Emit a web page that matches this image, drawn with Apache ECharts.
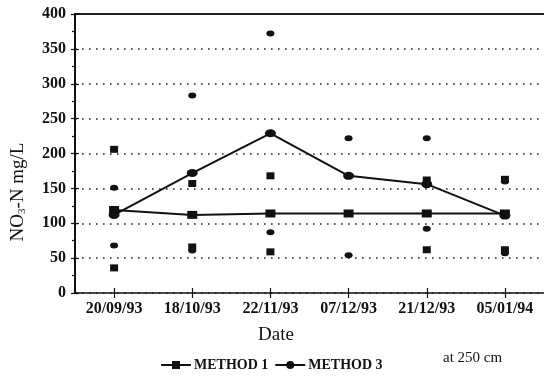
<!DOCTYPE html>
<html>
<head>
<meta charset="utf-8">
<script src="https://cdn.jsdelivr.net/npm/echarts@6/dist/echarts.min.js"></script>
<style>
  html, body { margin: 0; padding: 0; background: #fff; }
  #chart { width: 544px; height: 379px; }
</style>
</head>
<body>
<div id="chart"></div>
<script>
// Sampling dates
const dates = ['20/09/93', '18/10/93', '22/11/93', '07/12/93', '21/12/93', '05/01/94'];

// Mean NO3-N (mg/L) at 250 cm
const method1 = [119, 112, 114, 114, 114, 114];
const method3 = [112, 172, 229, 168, 156, 111];

// Individual high / low readings
const method1High = [206, 157, 168, '-', 162, 163];
const method1Low = [36, 66, 59, '-', 62, 62];
const method3High = [151, 283, 372, 222, 222, 160];
const method3Low = [68, 61, 87, 54, 92, 57];

// Value axis ticks
const yMin = 0, yMax = 400, yStep = 50;

const serif = '"Liberation Serif", "Times New Roman", serif';
const ink = '#111';

const chart = echarts.init(document.getElementById('chart'), null, { renderer: 'canvas' });

const catAxisBase = {
  type: 'category',
  data: dates,
  boundaryGap: true,
  gridIndex: 0
};

const valAxisBase = {
  type: 'value',
  min: yMin,
  max: yMax,
  interval: yStep,
  gridIndex: 0
};

const dotStyle = { color: ink, opacity: 1 };

chart.setOption({
  backgroundColor: '#fff',
  animation: false,
  grid: { left: 75, right: -3, top: 14, bottom: 86, containLabel: false },
  xAxis: [
    Object.assign({}, catAxisBase, {
      position: 'bottom',
      axisLine: { show: true, lineStyle: { color: ink, width: 1.5 } },
      axisTick: { show: true, alignWithLabel: true, length: 5, lineStyle: { color: ink, width: 1.2 } },
      axisLabel: { color: ink, fontFamily: serif, fontWeight: 'bold', fontSize: 16, margin: 8 },
      splitLine: { show: false }
    }),
    Object.assign({}, catAxisBase, {
      position: 'bottom',
      axisLine: { show: false },
      axisTick: { show: true, inside: true, alignWithLabel: true, length: 5, lineStyle: { color: ink, width: 1.2 } },
      axisLabel: { show: false },
      splitLine: { show: false }
    }),
    Object.assign({}, catAxisBase, {
      position: 'top',
      axisLine: { show: true, lineStyle: { color: '#222', width: 2 } },
      axisTick: { show: false },
      axisLabel: { show: false },
      splitLine: { show: false }
    })
  ],
  yAxis: [
    Object.assign({}, valAxisBase, {
      position: 'left',
      axisLine: { show: true, lineStyle: { color: ink, width: 2 } },
      axisTick: { show: true, length: 4, lineStyle: { color: ink, width: 1.2 } },
      minorTick: { show: true, splitNumber: 2, length: 3, lineStyle: { color: ink, width: 1.2 } },
      axisLabel: { color: ink, fontFamily: serif, fontWeight: 'bold', fontSize: 16, margin: 9 },
      splitLine: { show: true, lineStyle: { color: '#222', width: 1.6, type: [1.6, 5.4] } }
    }),
    Object.assign({}, valAxisBase, {
      position: 'left',
      axisLine: { show: false },
      axisTick: { show: true, inside: true, length: 4, lineStyle: { color: ink, width: 1.2 } },
      minorTick: { show: false },
      axisLabel: { show: false },
      splitLine: { show: false }
    })
  ],
  legend: {
    data: ['METHOD 1', 'METHOD 3'],
    left: 155,
    top: 353,
    itemWidth: 30,
    itemHeight: 10,
    itemGap: 6,
    textStyle: { color: ink, fontFamily: serif, fontWeight: 'bold', fontSize: 14, padding: [2, 0, 0, -2] }
  },
  graphic: [
    {
      type: 'text',
      x: 18,
      y: 192,
      rotation: Math.PI / 2,
      style: {
        text: '{a|NO}{s|3}{a|-N mg/L}',
        align: 'center',
        verticalAlign: 'middle',
        fill: ink,
        rich: {
          a: { fontFamily: serif, fontSize: 19, lineHeight: 24, fill: ink },
          s: { fontFamily: serif, fontSize: 11, lineHeight: 24, padding: [9, 0, 0, 0], fill: ink }
        }
      }
    },
    {
      type: 'text',
      x: 276,
      y: 335,
      style: {
        text: 'Date',
        font: '19px ' + serif,
        fill: ink,
        align: 'center',
        verticalAlign: 'middle'
      }
    },
    {
      type: 'text',
      x: 443,
      y: 358,
      style: {
        text: 'at 250 cm',
        font: '15px ' + serif,
        fill: ink,
        align: 'left',
        verticalAlign: 'middle'
      }
    }
  ],
  series: [
    {
      name: 'METHOD 1',
      type: 'line',
      data: method1,
      symbol: 'rect',
      symbolSize: [10, 8],
      lineStyle: { color: ink, width: 2 },
      itemStyle: dotStyle,
      z: 3
    },
    {
      name: 'METHOD 3',
      type: 'line',
      data: method3,
      symbol: 'circle',
      symbolSize: [11, 8],
      lineStyle: { color: ink, width: 2 },
      itemStyle: dotStyle,
      z: 3
    },
    {
      name: 'Method 1 high',
      type: 'scatter',
      data: method1High,
      symbol: 'rect',
      symbolSize: [8, 7],
      itemStyle: dotStyle
    },
    {
      name: 'Method 1 low',
      type: 'scatter',
      data: method1Low,
      symbol: 'rect',
      symbolSize: [8, 7],
      itemStyle: dotStyle
    },
    {
      name: 'Method 3 high',
      type: 'scatter',
      data: method3High,
      symbol: 'circle',
      symbolSize: [8, 6],
      itemStyle: dotStyle
    },
    {
      name: 'Method 3 low',
      type: 'scatter',
      data: method3Low,
      symbol: 'circle',
      symbolSize: [8, 6],
      itemStyle: dotStyle
    }
  ]
});
</script>
</body>
</html>
